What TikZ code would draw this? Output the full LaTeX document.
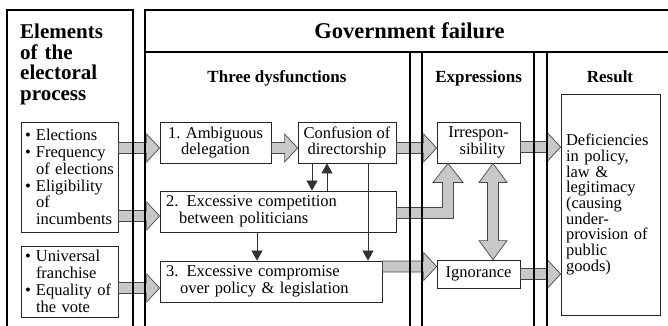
\documentclass[tikz,border=0pt]{standalone}
\usepackage{fontspec}
\setmainfont{Liberation Serif}
\usetikzlibrary{calc,arrows.meta}
\definecolor{arrowfill}{RGB}{200,200,200}
\definecolor{arrowline}{RGB}{70,70,70}
\newcommand\bodyfont{\fontsize{16.5}{16.8}\selectfont}
\newcommand\resfont{\fontsize{16.5}{15.7}\selectfont}
\newcommand\bul{\makebox[11pt][l]{\textbullet}}
\newcommand\ind{\hspace*{11pt}}
\tikzset{
  box/.style={draw=black!85, line width=0.8pt, inner sep=0pt, font=\bodyfont},
  fatarrow/.style={fill=arrowfill, draw=arrowline, line width=0.7pt, line join=miter},
  thinarrow/.style={draw=black!80, line width=0.7pt, -{Triangle[length=10pt,width=11pt]}},
  frameline/.style={line width=1.6pt, black, line join=miter},
  heading/.style={font=\fontsize{17}{19}\selectfont\bfseries, anchor=base, inner sep=0pt},
}
% horizontal fat arrow: tip x from #2, y from #1
\newcommand\harrow[2]{\draw[fatarrow] let \p1=#1, \p2=#2 in
  (\x1,\y1+5.5pt) -- (\x2-13pt,\y1+5.5pt) -- (\x2-13pt,\y1+14pt) -- (\x2,\y1)
  -- (\x2-13pt,\y1-14pt) -- (\x2-13pt,\y1-5.5pt) -- (\x1,\y1-5.5pt) -- cycle;}
\begin{document}
\begin{tikzpicture}[x=1pt,y=-1pt]
\useasboundingbox (0,0) rectangle (668,325);

% ---------- headings ----------
\node[font=\fontsize{21}{20.5}\selectfont\bfseries, align=left, text width=110pt,
      anchor=north west, inner sep=0pt] (elem) at (20,24) {Elements\\of the\\electoral\\process};
\node[font=\fontsize{22.5}{24}\selectfont\bfseries, anchor=base, inner sep=0pt] (gf) at (409.5,38) {Government failure};
\node[heading] (hdys) at (277,82) {Three dysfunctions};
\node[heading] (hexp) at (478.7,82) {Expressions};
\node[heading] (hres) at (610,82) {Result};

% ---------- boxes ----------
\node[box, minimum width=97pt, minimum height=110pt, text width=89pt, inner xsep=4pt, align=left]
  (L1) at (69.5,177) {\bul Elections\\\bul Frequency\\\ind of elections\\\bul Eligibility\\\ind of\\\ind incumbents};
\node[box, minimum width=97pt, minimum height=71pt, text width=89pt, inner xsep=4pt, align=left]
  (L2) at (69.5,281.5) {\bul Universal\\\ind franchise\\\bul Equality of\\\ind the vote};

\node[box, minimum width=111pt, minimum height=41pt, align=center] (D1) at (215.5,142.5) {1. Ambiguous\\delegation};
\node[box, minimum width=98pt, minimum height=41pt, align=center] (C) at (347,142.5) {Confusion of\\directorship};
\node[box, minimum width=236pt, minimum height=41pt, text width=224pt, inner xsep=6pt, align=left]
  (D2) at (278,211.5) {2. Excessive competition\\\hspace*{13pt}between politicians};
\node[box, minimum width=222pt, minimum height=41pt, text width=210pt, inner xsep=6pt, align=left]
  (D3) at (271,281.5) {3. Excessive compromise\\\hspace*{14pt}over policy \& legislation};

\node[box, minimum width=83pt, minimum height=41pt, align=center] (Irr) at (478.5,142.5) {Irrespon-\\\hspace*{8pt}sibility};
\node[box, minimum width=83pt, minimum height=28pt, align=center] (Ign) at (478.5,274) {Ignorance};

\node[box, minimum width=97pt, minimum height=221pt, text width=89pt, inner xsep=5pt, align=left, font=\resfont]
  (Res) at (610.5,204.5) {Deficiencies\\in policy,\\law \&\\legitimacy\\(causing\\under-\\provision of\\public\\goods)};

% ---------- fat grey arrows ----------
\harrow{([yshift=-5.5pt]L1.east |- D1.west)}{(D1.west)}
\harrow{([yshift=-4.5pt]L1.east |- D2.west)}{(D2.west)}
\harrow{([yshift=-6.5pt]L2.east |- D3.west)}{(D3.west)}
\harrow{([yshift=-5.5pt]D1.east)}{(C.west)}
\harrow{([yshift=-5.5pt]C.east)}{(Irr.west)}
\harrow{([yshift=-4.5pt]Irr.east)}{(Res.west)}
\harrow{([yshift=7.5pt]D3.east |- Ign.west)}{(Ign.west)}
\harrow{(Ign.east)}{(Res.west)}

% elbow arrow: competition -> irresponsibility
\draw[fatarrow] let \p1=([yshift=-1.5pt]D2.east), \p2=([xshift=-30.5pt]Irr.south) in
  (\x1,\y1+5.5pt) -- (\x2-5.5pt,\y1+5.5pt) -- (\x2-5.5pt,\y2-19pt) -- (\x2-15pt,\y2-19pt)
  -- (\x2,\y2) -- (\x2+15pt,\y2-19pt) -- (\x2+5.5pt,\y2-19pt) -- (\x2+5.5pt,\y1-5.5pt)
  -- (\x1,\y1-5.5pt) -- cycle;

% double arrow: irresponsibility <-> ignorance
\draw[fatarrow] let \p1=([xshift=14.5pt]Irr.south), \p2=([xshift=14.5pt]Ign.north) in
  (\x1,\y1) -- (\x1+14pt,\y1-19pt) -- (\x1+5.5pt,\y1-19pt) -- (\x1+5.5pt,\y2+19pt)
  -- (\x1+14pt,\y2+19pt) -- (\x1,\y2) -- (\x1-14pt,\y2+19pt) -- (\x1-5.5pt,\y2+19pt)
  -- (\x1-5.5pt,\y1-19pt) -- (\x1-14pt,\y1-19pt) -- cycle;

% ---------- thin black arrows ----------
\draw[thinarrow] ([xshift=-35pt]C.south) -- ([xshift=-35pt]C.south |- D2.north);
\draw[thinarrow] ([xshift=-20pt]C.south |- D2.north) -- ([xshift=-20pt]C.south);
\draw[thinarrow] ([xshift=-21pt]D2.south) -- ([xshift=-21pt]D2.south |- D3.north);
\draw[thinarrow] ([xshift=21pt]C.south) -- ([xshift=21pt]C.south |- D3.north);

% ---------- frames ----------
\draw[frameline] (7,330) -- (7,10) -- (133,10) -- (133,330);
\draw[frameline] (145,330) -- (145,10) -- (672,10);
\draw[frameline] (145,52) -- (672,52);
\draw[frameline] (410,52) -- (410,330);
\draw[frameline] (422,52) -- (422,330);
\draw[frameline] (534,52) -- (534,330);
\draw[frameline] (547,52) -- (547,330);
\end{tikzpicture}
\end{document}
